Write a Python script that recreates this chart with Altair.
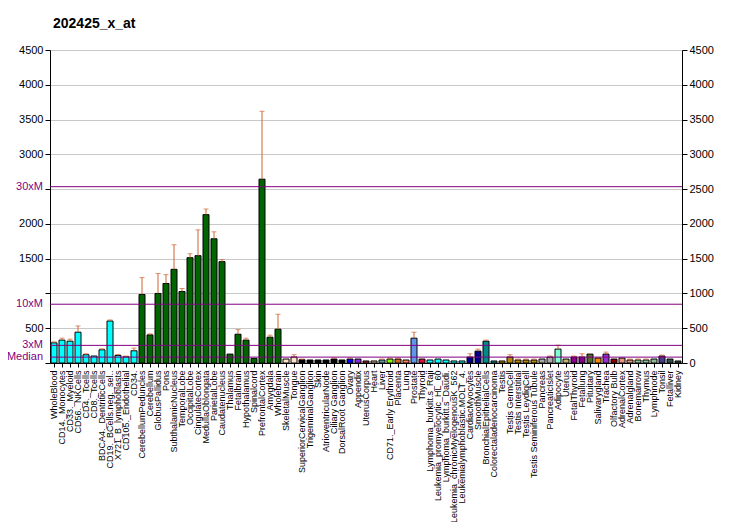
import altair as alt
import pandas as pd

names = [
    "WholeBlood", "CD14._Monocytes", "CD33._Myeloid", "CD56._NKCells", "CD4._Tcells",
    "CD8._Tcells", "BDCA4._DentriticCells", "CD19._BCells.neg._sel..", "X721_B_lymphoblasts",
    "CD105._Endothelial", "CD34.", "CerebellumPeduncles", "Cerebellum", "GlobusPallidus",
    "Pons", "SubthalamicNucleus", "TemporalLobe", "OccipitalLobe", "CingulateCortex",
    "MedullaOblongata", "ParietalLobe", "Caudatenucleus", "Thalamus", "Fetalbrain",
    "Hypothalamus", "Spinalcord", "PrefrontalCortex", "Amygdala", "Wholebrain",
    "SkeletalMuscle", "Tongue", "SuperiorCervicalGanglion", "TrigeminalGanglion", "Skin",
    "AtrioventricularNode", "Ciliary Ganglion", "DorsalRoot Ganglion", "Ovary", "Appendix",
    "UterusCorpus", "Heart", "Liver", "CD71._Early Erythroid", "Placenta", "Lung",
    "Prostate", "Thyroid", "Lymphoma_burkitt.s_Raji", "Leukemia_promyelocytic_HL_60",
    "Lymphoma_burkitt.s_Daudi.", "Leukemia_chronicMyelogenousK_562",
    "Leukemialymphoblastic.MOLT_4.", "CardiacMyocytes", "SmoothMuscle",
    "BronchialEpithelialCells", "Colorectaladenocarcinoma", "Testis", "Testis GermCell",
    "Testis Interstitial", "Testis LeydigCell", "Testis Seminiferous Tubule", "Pancreas",
    "PancreaticIslet", "Adipocyte", "Uterus", "FetalThyroid", "Fetallung", "Pituitary",
    "Salivarygland", "Trachea", "Olfactory Bulb", "AdrenalCortex", "Adrenalgland",
    "Bonemarrow", "Thymus", "Lymphnode", "Tonsil", "Fetalliver", "Kidney",
]

values = [
    290, 329, 314, 443, 119, 100, 190, 604, 109, 90, 176,
    985, 404, 1000, 1143, 1347, 1028, 1514, 1543, 2133, 1786, 1457, 128, 414, 329, 67,
    2643, 371, 486,
    57, 86, 47, 43, 43, 43, 57, 43, 57, 57, 29, 29, 43, 57, 57, 43, 357,
    57, 43, 57, 43, 29, 29, 86, 171, 314, 29, 29, 86, 43, 43, 43, 57, 86, 200,
    57, 86, 86, 128, 71, 128, 57, 71, 43, 43, 43, 57, 100, 57, 29,
]

err_top = [
    304, 357, 343, 533, 133, None, 204, 619, 123, 100, 214,
    1228, 419, 1286, 1271, 1700, 1071, 1571, 1914, 2214, 1886, 1486, None, 480, 357, None,
    3619, 400, 700,
    None, 119, 57, None, None, None, 71, None, 71, None, None, None, 57, 71, 71, None, 443,
    None, None, None, None, None, None, 133, 200, 329, None, None, 119, 57, 57, 57, None, 100, 257,
    None, 100, 133, None, None, 157, None, None, 57, 57, 57, None, 114, None, None,
]

colors = (
    ["#00FFFF"] * 11
    + ["#006400"] * 18
    + ["#FFE4C4"] * 2
    + ["#000000"] * 6
    + ["#0000FF", "#8A2BE2", "#A52A2A", "#DEB887", "#5F9EA0", "#7FFF00", "#D2691E",
       "#FF7F50", "#6495ED", "#DC143C"]
    + ["#00FFFF"] * 5
    + ["#00008B"] * 2
    + ["#008B8B"] * 2
    + ["#B8860B"] * 5
    + ["#A9A9A9"] * 2
    + ["#7FFFD4", "#BDB76B", "#8B008B", "#8B008B", "#556B2F", "#FF8C00", "#9932CC",
       "#8B0000", "#E9967A", "#E9967A"]
    + ["#8FBC8F"] * 3
    + ["#483D8B", "#2F4F4F", "#2F4F4F"]
)

ref_labels = ["30xM", "10xM", "3xM", "Median"]
ref_values = [2535, 845, 253.5, 84.5]

df = pd.DataFrame({"name": names, "value": values, "err": err_top, "color": colors})
ref_df = pd.DataFrame({"label": ref_labels, "ref": ref_values})

FONT = "Liberation Sans"
W, H = 632, 313

yscale = alt.Scale(domain=[0, 4500], nice=False, zero=True)
xscale = alt.Scale(paddingInner=0.25, paddingOuter=0.125)

xaxis = alt.Axis(title=None, labelAngle=270, labelFontSize=9, labelPadding=3, tickSize=4,
                 tickColor="black", domainColor="black", labelColor="black",
                 labelLimit=400, labelOverlap=False, labelFont=FONT)

left_axis = alt.Axis(orient="left", title=None, values=list(range(0, 4501, 500)), format="d",
                     labelExpr="(datum.value == 0 || datum.value == 1000 || datum.value == 2500) ? '' : datum.label",
                     grid=True, gridColor="#C8C8C8", gridWidth=1, tickSize=5, tickColor="black",
                     domainColor="black", labelColor="black", labelFontSize=11, labelPadding=2,
                     labelFont=FONT)

right_axis = alt.Axis(orient="right", title=None, values=list(range(0, 4501, 500)), format="d",
                      grid=False, tickSize=5, tickColor="black", domainColor="black",
                      labelColor="black", labelFontSize=11, labelPadding=2, labelFont=FONT)

base = alt.Chart(df).encode(x=alt.X("name:N", sort=names, scale=xscale, axis=xaxis))

bars = base.mark_bar(stroke="black", strokeWidth=1).encode(
    y=alt.Y("value:Q", scale=yscale, axis=left_axis),
    fill=alt.Fill("color:N", scale=None),
)

err_rule = base.transform_filter("isValid(datum.err)").mark_rule(color="#CC6633").encode(
    y=alt.Y("value:Q", scale=yscale, axis=None), y2="err:Q"
)
err_cap = base.transform_filter("isValid(datum.err)").mark_tick(
    color="#CC6633", thickness=1, size=5).encode(
    y=alt.Y("err:Q", scale=yscale, axis=None)
)

ref_rules = alt.Chart(ref_df).mark_rule(color="#800080", strokeWidth=1).encode(
    y=alt.Y("ref:Q", scale=yscale, axis=right_axis)
)
ref_text = alt.Chart(ref_df).mark_text(align="right", baseline="middle", color="#800080",
                                       fontSize=11, font=FONT).encode(
    y=alt.Y("ref:Q", scale=yscale, axis=None),
    x=alt.value(-7),
    text="label:N",
)

chart = alt.layer(bars, err_rule, err_cap, ref_rules, ref_text).resolve_axis(
    y="independent"
).properties(
    width=W, height=H,
    autosize=alt.AutoSizeParams(type="none"),
    padding={"left": 42, "top": 42, "right": 42, "bottom": 159},
    title=alt.Title("202425_x_at", anchor="start", frame="group", fontSize=14,
                    fontWeight="bold", font=FONT, color="black", dx=3, offset=2,
                    baseline="alphabetic"),
).configure_view(stroke=None).configure(background="white")

chart.save("out.html", embed_options={"renderer": "svg", "actions": False})
